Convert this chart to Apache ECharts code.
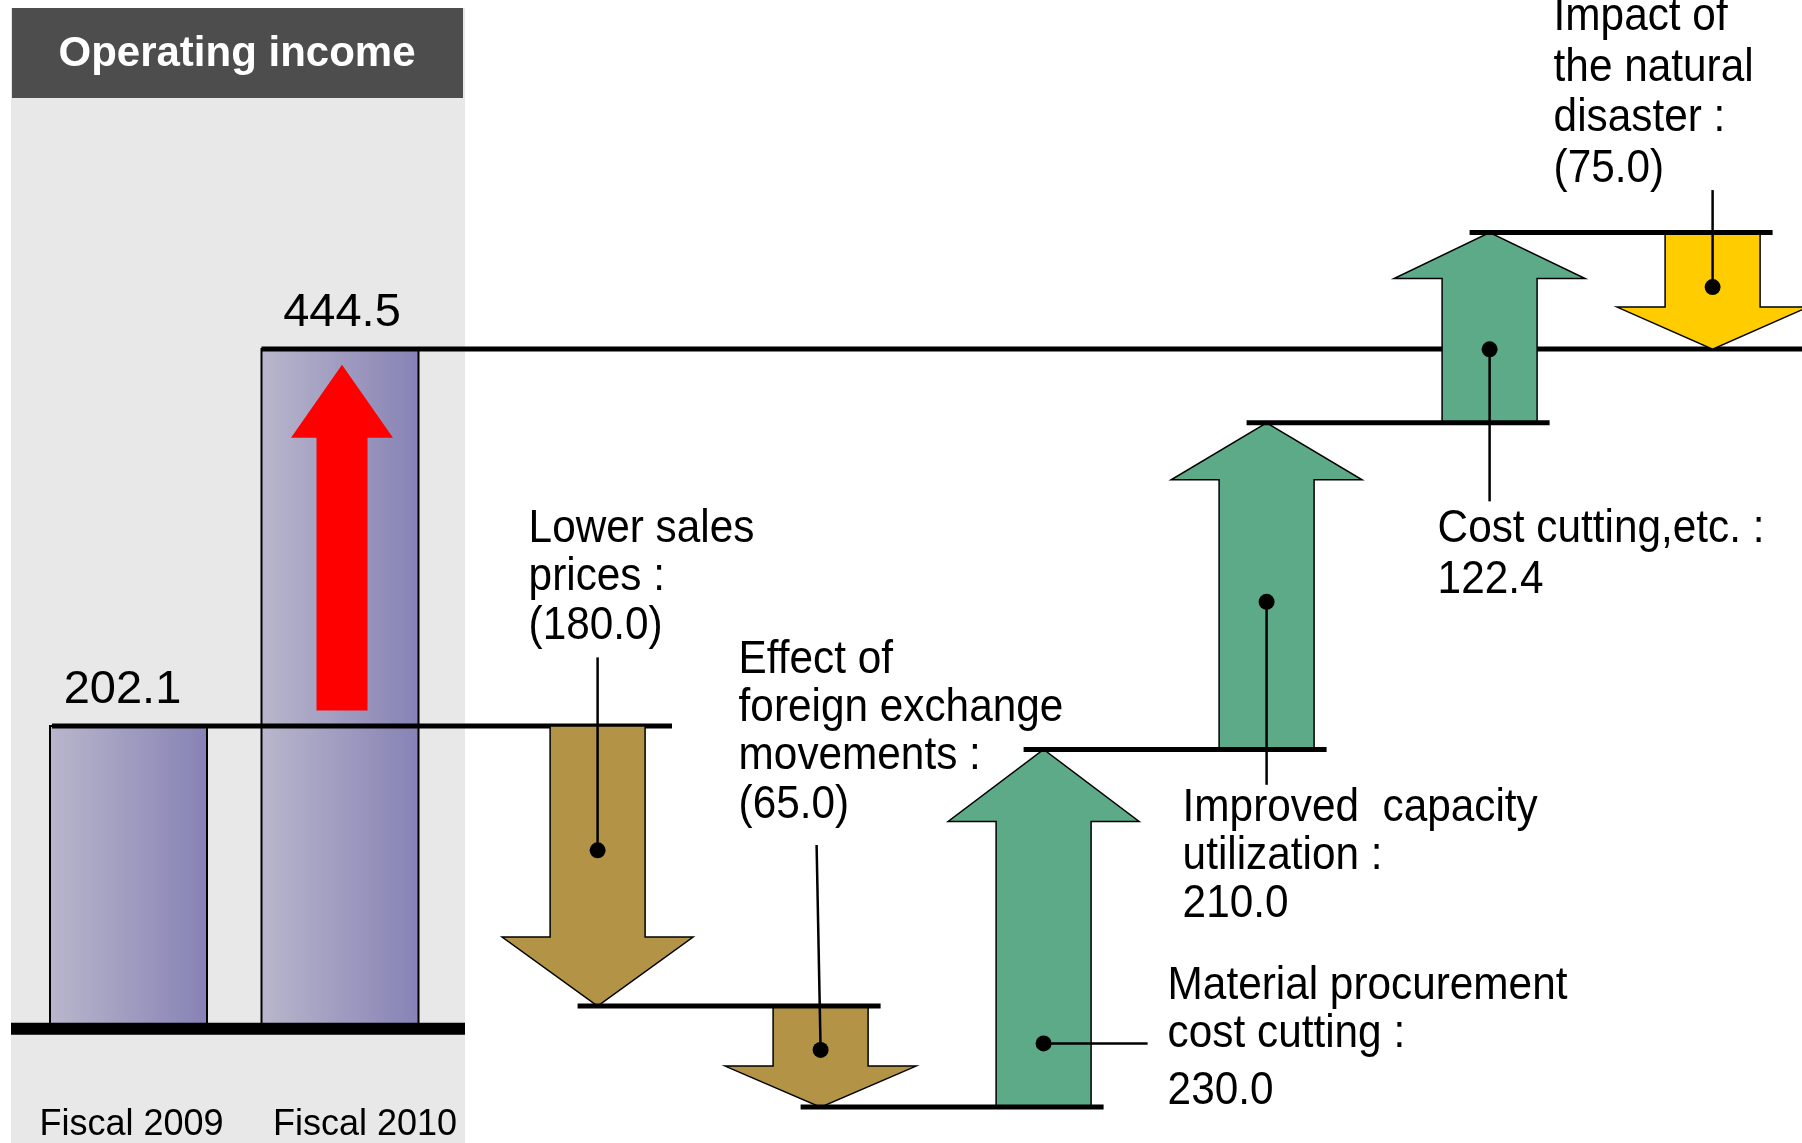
<!DOCTYPE html>
<html>
<head>
<meta charset="utf-8">
<title>Operating income</title>
<script src="https://cdn.jsdelivr.net/npm/echarts@6/dist/echarts.min.js"></script>
<style>
  html, body { margin: 0; padding: 0; background: #ffffff; }
  #chart { width: 1802px; height: 1143px; }
</style>
</head>
<body>
<div id="chart"></div>
<script>
(function() {
  var FONT = "'Liberation Sans', Arial, Helvetica, sans-serif";

  // --- data ---
  var periods = ['Fiscal 2009', 'Fiscal 2010'];
  var incomes = [202.1, 444.5];
  var factors = [
    'Lower sales\nprices :',
    'Effect of\nforeign exchange\nmovements :',
    'Material procurement\ncost cutting :',
    'Improved  capacity\nutilization :',
    'Cost cutting,etc. :',
    'Impact of\nthe natural\ndisaster :'
  ];
  var changes = [-180.0, -65.0, 230.0, 210.0, 122.4, -75.0];

  // --- styles ---
  var brown = '#B39447';
  var green = '#5DAA89';
  var yellow = '#FFCC00';
  var arrowColors = [brown, brown, green, green, green, yellow];
  var headLen = [69, 41, 72, 57, 46, 42];
  // where the dot sits on each arrow (share of its length), leader end and text box offsets in px
  var notes = [
    { at: 0.444, lead: [0, -193], text: [-69, -345], lh: 48.3, gap: 0 },
    { at: 0.435, lead: [-4, -205], text: [-82, -414], lh: 48.3, gap: 0 },
    { at: 0.178, lead: [104, 0], text: [124, -81], lh: 48, gap: 17 },
    { at: 0.452, lead: [0, 183], text: [-84, 182], lh: 48.3, gap: 0 },
    { at: 0.386, lead: [0, 152], text: [-52, 155], lh: 50.6, gap: 0 },
    { at: 0.468, lead: [0, -97], text: [-159, -295], lh: 50.6, gap: 0 }
  ];

  var CHART_W = 1802, CHART_H = 1143, BAR_GRID_H = 1100;
  var Y_MAX = 669, Y_MIN = -66;
  var Y_MIN_BARS = Y_MAX - BAR_GRID_H * (Y_MAX - Y_MIN) / CHART_H;
  var FLOOR = 7.5;
  var STEP_LEFT = 486.1, STEP_BAND = 223;
  var STEP_X_MAX = -0.5 + (CHART_W - STEP_LEFT) / STEP_BAND;

  var starts = [], ends = [];
  var level = incomes[0];
  changes.forEach(function(d) {
    starts.push(level);
    level = Math.round((level + d) * 10) / 10;
    ends.push(level);
  });

  function fmt(v) {
    return v < 0 ? '(' + Math.abs(v).toFixed(1) + ')' : v.toFixed(1);
  }

  function arrowPoints(cx, y0, y1, shaftW, headW, headH) {
    var dir = y1 > y0 ? 1 : -1;
    var hb = y1 - dir * headH;
    return [
      [cx - shaftW / 2, y0], [cx - shaftW / 2, hb], [cx - headW / 2, hb],
      [cx, y1],
      [cx + headW / 2, hb], [cx + shaftW / 2, hb], [cx + shaftW / 2, y0]
    ];
  }

  function renderBar(params, api) {
    var i = api.value(0);
    var v = api.value(1);
    var top = api.coord([i, v]);
    var base = api.coord([i, FLOOR]);
    var w = 157;
    var x0 = top[0] - w / 2;
    var children = [
      {
        type: 'rect', z2: 1,
        shape: { x: x0, y: top[1], width: w, height: base[1] - top[1] },
        style: {
          fill: {
            type: 'linear', x: 0, y: 0, x2: 1, y2: 0,
            colorStops: [
              { offset: 0, color: '#B9B6CC' },
              { offset: 0.5, color: '#A09CC0' },
              { offset: 1, color: '#8682B5' }
            ]
          },
          stroke: '#000', lineWidth: 2
        }
      },
      {
        type: 'text', z2: 6, x: top[0] + (i === 0 ? -6 : 2), y: top[1] - 13,
        style: {
          text: v.toFixed(1), fill: '#000', fontSize: 47, fontFamily: FONT,
          align: 'center', verticalAlign: 'bottom'
        }
      }
    ];
    if (i === 0) {
      children.push({
        type: 'line', z2: 5,
        shape: { x1: 11, y1: base[1], x2: 465, y2: base[1] },
        style: { stroke: '#000', lineWidth: 12 }
      });
      children.push({
        type: 'line', z2: 5,
        shape: { x1: x0 + 2, y1: top[1], x2: x0 + 622, y2: top[1] },
        style: { stroke: '#000', lineWidth: 5 }
      });
    } else {
      var a0 = api.coord([i, incomes[0] + 10]);
      var a1 = api.coord([i, v - 10]);
      children.push({
        type: 'polygon', z2: 2,
        shape: { points: arrowPoints(top[0] + 2, a0[1], a1[1], 51, 102, 73) },
        style: { fill: '#FF0000' }
      });
      children.push({
        type: 'line', z2: 5,
        shape: { x1: x0, y1: top[1], x2: api.getWidth(), y2: top[1] },
        style: { stroke: '#000', lineWidth: 5 }
      });
    }
    return { type: 'group', children: children };
  }

  function renderStep(params, api) {
    var i = api.value(0);
    var s = api.value(1);
    var e = api.value(2);
    var p0 = api.coord([i, s]);
    var p1 = api.coord([i, e]);
    var band = api.size([1, 0])[0];
    var cx = p0[0];
    var children = [{
      type: 'polygon', z2: 1,
      shape: { points: arrowPoints(cx, p0[1], p1[1], 95, 191, headLen[i]) },
      style: { fill: arrowColors[i], stroke: '#000', lineWidth: 1.5 }
    }];
    if (i < changes.length - 1) {
      children.push({
        type: 'line', z2: 3,
        shape: { x1: cx - 20, y1: p1[1], x2: cx + band + 60, y2: p1[1] },
        style: { stroke: '#000', lineWidth: 5 }
      });
    }
    var n = notes[i];
    var dotY = api.coord([i, s + (e - s) * n.at])[1];
    children.push({
      type: 'line', z2: 4,
      shape: { x1: cx, y1: dotY, x2: cx + n.lead[0], y2: dotY + n.lead[1] },
      style: { stroke: '#000', lineWidth: 2.5 }
    });
    children.push({
      type: 'circle', z2: 5,
      shape: { cx: cx, cy: dotY, r: 8 },
      style: { fill: '#000' }
    });
    var lines = factors[i].split('\n').map(function(t) { return '{t|' + t + '}'; });
    lines.push('{v|' + fmt(api.value(3)) + '}');
    children.push({
      type: 'text', z2: 6,
      x: cx + n.text[0], y: dotY + n.text[1], scaleX: 0.92,
      style: {
        text: lines.join('\n'),
        fill: '#000', fontSize: 46, fontFamily: FONT,
        align: 'left', verticalAlign: 'top',
        rich: {
          t: { fontSize: 46, fontFamily: FONT, fill: '#000', lineHeight: n.lh },
          v: { fontSize: 46, fontFamily: FONT, fill: '#000', lineHeight: n.lh + n.gap }
        }
      }
    });
    return { type: 'group', children: children };
  }

  var barData = incomes.map(function(v, i) { return [i, v]; });
  var stepData = changes.map(function(d, i) { return [i, starts[i], ends[i], d]; });

  var chart = echarts.init(document.getElementById('chart'), null, { renderer: 'canvas' });
  chart.setOption({
    animation: false,
    backgroundColor: '#ffffff',
    graphic: [
      { type: 'rect', shape: { x: 11, y: 8, width: 454, height: 1135 }, style: { fill: '#E8E8E8' } },
      { type: 'rect', shape: { x: 12, y: 8, width: 451, height: 90 }, style: { fill: '#4D4D4D' } },
      {
        type: 'text', x: 237, y: 54,
        style: {
          text: 'Operating income', fill: '#ffffff', fontSize: 42, fontWeight: 'bold',
          fontFamily: FONT, align: 'center', verticalAlign: 'middle'
        }
      }
    ],
    grid: [
      { left: 22.75, width: 423, top: 0, height: BAR_GRID_H },
      { left: STEP_LEFT, right: 0, top: 0, height: CHART_H }
    ],
    xAxis: [
      {
        type: 'category', gridIndex: 0, data: periods,
        axisLine: { show: false }, axisTick: { show: false },
        axisLabel: {
          interval: 0, margin: 7,
          formatter: function(v, idx) { return (idx === 1 ? '{b|' : '{a|') + v + '}'; },
          rich: {
            a: { fontSize: 36, fontFamily: FONT, color: '#000', padding: [0, 0, 0, 6] },
            b: { fontSize: 36, fontFamily: FONT, color: '#000', padding: [0, 0, 0, 50] }
          }
        }
      },
      { type: 'value', gridIndex: 1, min: -0.5, max: STEP_X_MAX, show: false, splitLine: { show: false } }
    ],
    yAxis: [
      { type: 'value', gridIndex: 0, min: Y_MIN_BARS, max: Y_MAX, show: false },
      { type: 'value', gridIndex: 1, min: Y_MIN, max: Y_MAX, show: false }
    ],
    series: [
      {
        type: 'custom', xAxisIndex: 0, yAxisIndex: 0, z: 2, silent: true,
        renderItem: renderBar, data: barData, encode: { x: 0, y: 1 }
      },
      {
        type: 'custom', xAxisIndex: 1, yAxisIndex: 1, z: 3, silent: true,
        renderItem: renderStep, data: stepData, encode: { x: 0, y: [1, 2] }
      }
    ]
  });
  window.addEventListener('resize', function() { chart.resize(); });
})();
</script>
</body>
</html>
